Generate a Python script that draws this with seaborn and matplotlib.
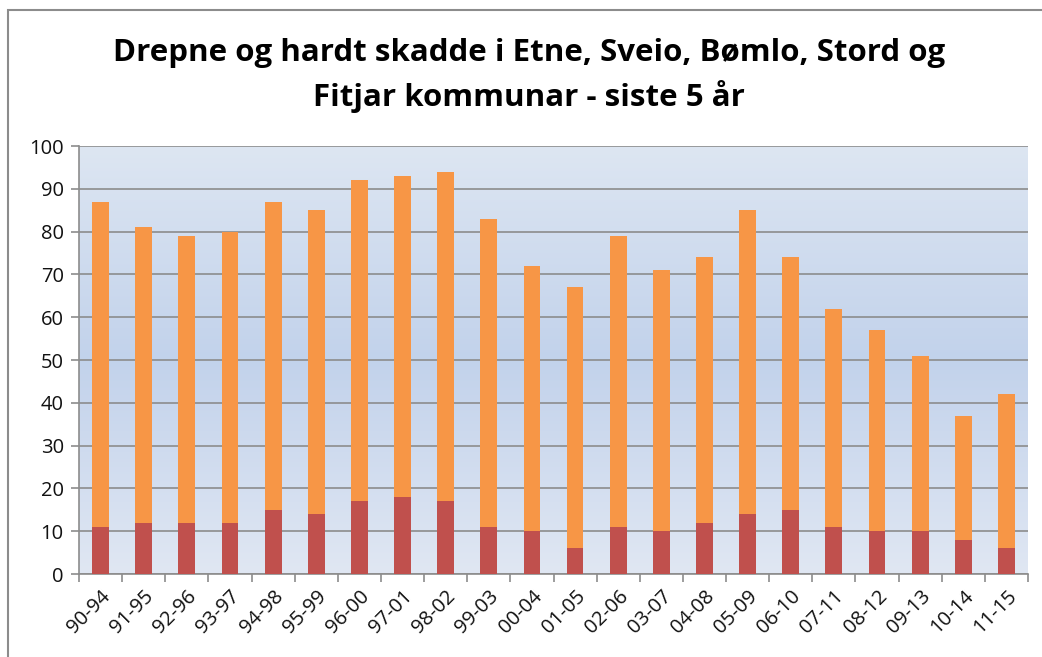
import numpy as np
import pandas as pd
import seaborn as sns
import matplotlib.pyplot as plt
from matplotlib.colors import LinearSegmentedColormap
from matplotlib.patches import Rectangle

periods = ['90-94', '91-95', '92-96', '93-97', '94-98', '95-99', '96-00', '97-01',
           '98-02', '99-03', '00-04', '01-05', '02-06', '03-07', '04-08', '05-09',
           '06-10', '07-11', '08-12', '09-13', '10-14', '11-15']
total = [87, 81, 79, 80, 87, 85, 92, 93, 94, 83, 72, 67, 79, 71, 74, 85, 74, 62, 57, 51, 37, 42]
drepne = [11, 12, 12, 12, 15, 14, 17, 18, 17, 11, 10, 6, 11, 10, 12, 14, 15, 11, 10, 10, 8, 6]

df = pd.DataFrame({'periode': periods, 'total': total, 'drepne': drepne})

sns.set_style('white')
plt.rcParams['font.family'] = ['Open Sans', 'DejaVu Sans']

fig = plt.figure(figsize=(10.42, 6.57), dpi=100)
ax = fig.add_axes([79 / 1042, 1 - 574 / 657, (1028 - 79) / 1042, (574 - 146) / 657])

# gradient background of the plot area
grad = LinearSegmentedColormap.from_list('bg', ['#dde6f2', '#c2d2eb', '#e0e7f3'])
ax.imshow(np.linspace(0, 1, 256).reshape(-1, 1), cmap=grad, aspect='auto',
          extent=[0, 1, 0, 1], transform=ax.transAxes, zorder=0)

sns.barplot(data=df, x='periode', y='total', color='#f79646', width=0.39,
            saturation=1, linewidth=0, ax=ax, zorder=3)
sns.barplot(data=df, x='periode', y='drepne', color='#c0504d', width=0.39,
            saturation=1, linewidth=0, ax=ax, zorder=4)

ax.set_xlim(-0.5, len(periods) - 0.5)
ax.set_ylim(0, 100)
ax.set_yticks(range(0, 101, 10))
ax.yaxis.grid(True, color='#8c8c8c', linewidth=1.2, zorder=1)
ax.set_axisbelow(True)
ax.set_xlabel('')
ax.set_ylabel('')

ax.set_xticks(np.arange(-0.5, len(periods), 1), minor=True)
ax.tick_params(axis='x', which='major', length=0, pad=9)
ax.tick_params(axis='x', which='minor', length=6, color='#8c8c8c', width=1.2, bottom=True)
ax.tick_params(axis='y', length=6, color='#8c8c8c', width=1.2, left=True, pad=5)
ax.tick_params(labelsize=14.5, labelcolor='#111111')
plt.setp(ax.get_xticklabels(), rotation=45, ha='right', rotation_mode='anchor')

for side in ['top', 'right']:
    ax.spines[side].set_visible(False)
for side in ['left', 'bottom']:
    ax.spines[side].set_color('#8c8c8c')
    ax.spines[side].set_linewidth(1.2)

fig.text(0.508, 0.885, 'Drepne og hardt skadde i Etne, Sveio, Bømlo, Stord og\nFitjar kommunar - siste 5 år',
         ha='center', va='center', fontsize=22.5, fontweight='bold', linespacing=1.45, color='black')

# chart border
fig.patches.append(Rectangle((8 / 1042, -0.01), 1.0, 1 - 10 / 657 + 0.01, transform=fig.transFigure,
                             fill=False, edgecolor='#8c8c8c', linewidth=1.5))

fig.savefig('out.png', dpi=100)
